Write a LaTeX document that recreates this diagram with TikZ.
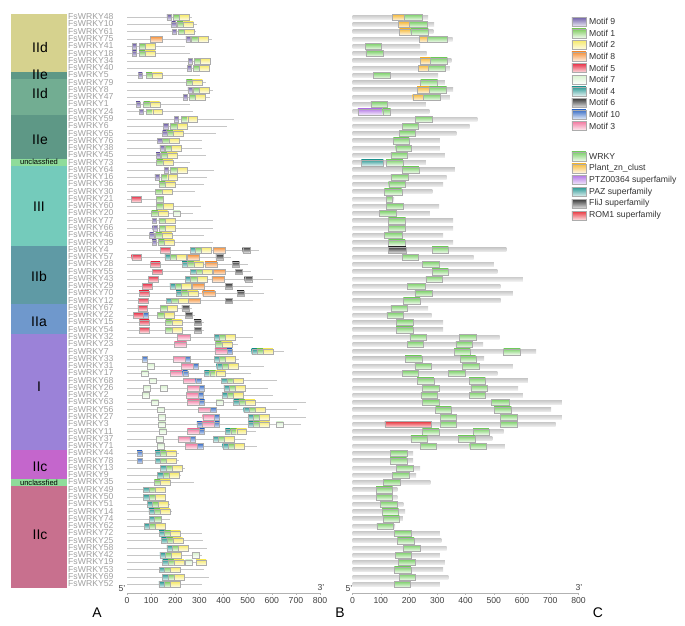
\documentclass[tikz,border=0pt]{standalone}
\usepackage{fontspec}
\setmainfont{Liberation Sans}
% group colours
\definecolor{colIId}{HTML}{D6D28E}
\definecolor{colIIe}{HTML}{5E9886}
\definecolor{colIIdb}{HTML}{72AD92}
\definecolor{colUnc}{HTML}{8FDC9A}
\definecolor{colIII}{HTML}{74CBBB}
\definecolor{colIIb}{HTML}{5F9AA5}
\definecolor{colIIa}{HTML}{6F98CC}
\definecolor{colI}{HTML}{9B82D8}
\definecolor{colIIcm}{HTML}{C466CC}
\definecolor{colIIc}{HTML}{C8708E}
% motif colours
\definecolor{cnine}{HTML}{7060A8}
\definecolor{cone}{HTML}{7DCB5C}
\definecolor{ctwo}{HTML}{F6EA6A}
\definecolor{ceight}{HTML}{F5913A}
\definecolor{cfive}{HTML}{E8344A}
\definecolor{cseven}{HTML}{D8F2CE}
\definecolor{cfour}{HTML}{2A9994}
\definecolor{csix}{HTML}{3C3C3C}
\definecolor{cten}{HTML}{3A6EC6}
\definecolor{cthree}{HTML}{F27BA2}
% domain colours
\definecolor{cwrky}{HTML}{7DD06A}
\definecolor{czn}{HTML}{F5B93A}
\definecolor{cptz}{HTML}{B57BE6}
\definecolor{cpaz}{HTML}{2E9A96}
\definecolor{cflij}{HTML}{3A3A3A}
\definecolor{crom}{HTML}{E8333C}
\def\xa{127}\def\ua{0.2413}
\def\xb{352.5}\def\ub{0.2825}
\tikzset{
  gname/.style={anchor=west, inner sep=0pt, text=gray!75, font=\fontsize{8.7}{8.7}\selectfont},
  grp/.style={inner sep=0pt, font=\fontsize{14}{14}\selectfont},
  unc/.style={inner sep=0pt, font=\fontsize{7.6}{7.6}\selectfont},
  barA/.style={draw=gray!45, line width=0.8bp},
  barB/.style={top color=gray!40, bottom color=gray!12, draw=none},
  motbox/.style={rectangle, anchor=west, inner sep=0pt, minimum height=5.5bp, draw=gray!65, line width=0.3bp},
  mot9/.style={motbox, top color=cnine, bottom color=cnine!15, minimum width={17*\ua*1bp}},
  mot1/.style={motbox, top color=cone, bottom color=cone!12, minimum width={26*\ua*1bp}},
  mot2/.style={motbox, top color=ctwo, bottom color=ctwo!15, minimum width={41*\ua*1bp}},
  mot8/.style={motbox, top color=ceight, bottom color=ceight!15, minimum width={50*\ua*1bp}},
  mot5/.style={motbox, top color=cfive, bottom color=cfive!15, minimum width={40*\ua*1bp}},
  mot7/.style={motbox, top color=cseven, bottom color=white, minimum width={29*\ua*1bp}},
  mot4/.style={motbox, top color=cfour, bottom color=cfour!15, minimum width={22*\ua*1bp}},
  mot6/.style={motbox, top color=csix, bottom color=csix!15, minimum width={29*\ua*1bp}},
  mot10/.style={motbox, top color=cten, bottom color=cten!15, minimum width={21*\ua*1bp}},
  mot3/.style={motbox, top color=cthree, bottom color=cthree!12, minimum width={50*\ua*1bp}},
  dom/.style={draw=gray!65, line width=0.3bp},
  dwrky/.style={dom, top color=cwrky, bottom color=cwrky!12},
  dzn/.style={dom, top color=czn, bottom color=czn!15},
  dptz/.style={dom, top color=cptz, bottom color=cptz!15},
  dpaz/.style={dom, top color=cpaz, bottom color=cpaz!15},
  dflij/.style={dom, top color=cflij, bottom color=cflij!15},
  drom/.style={dom, top color=crom, bottom color=crom!15},
  legbox/.style={anchor=east, inner sep=0pt, minimum width=14bp, minimum height=9bp},
  legtext/.style={anchor=west, inner sep=0pt, text=black!80, font=\fontsize{8.7}{8.7}\selectfont},
  axisline/.style={draw=gray!60, line width=0.5bp},
  ticklab/.style={inner sep=0pt, text=black!75, font=\fontsize{8.7}{8.7}\selectfont},
  panlab/.style={inner sep=0pt, font=\fontsize{14}{14}\selectfont}
}
\begin{document}
\begin{tikzpicture}[x=1bp, y=-1bp]
\useasboundingbox (0,0) rectangle (685,626);
% groups
\foreach \a/\b/\c in {1/8/colIId, 9/9/colIIe, 10/14/colIIdb, 15/20/colIIe, 21/21/colUnc,
  22/32/colIII, 33/40/colIIb, 41/44/colIIa, 45/60/colI, 61/64/colIIcm, 65/65/colUnc, 66/79/colIIc}
  \fill[fill=\c] (11,{17.3+(\a-1.5)*7.27}) rectangle (67,{17.3+(\b-0.5)*7.27});
\node[grp] (lIId) at (40,47.7) {IId};
\node[grp] (lIIe) at (40,75) {IIe};
\node[grp] (lIIdb) at (40,94) {IId};
\node[grp] (lIIeb) at (40,140) {IIe};
\node[unc] (lunc) at (39,162) {unclassfied};
\node[grp] (lIII) at (39,207) {III};
\node[grp] (lIIb) at (39,277) {IIb};
\node[grp] (lIIa) at (39,322) {IIa};
\node[grp] (lI) at (39,387) {I};
\node[grp] (lIIcm) at (40,467) {IIc};
\node[unc] (luncb) at (39,483) {unclassfied};
\node[grp] (lIIc) at (40,535) {IIc};
% genes
\foreach \r/\g/\len in {1/48/268, 2/10/289, 3/61/286, 4/75/354, 5/41/239, 6/18/262, 7/34/350, 8/40/345,
  9/5/303, 10/79/327, 11/8/356, 12/47/345, 13/1/260, 14/24/272, 15/59/442, 16/6/415, 17/65/368,
  18/76/309, 19/38/309, 20/45/327, 21/73/260, 22/64/362, 23/16/333, 24/36/321, 25/30/283, 26/21/147,
  27/60/307, 28/20/274, 29/77/356, 30/66/356, 31/46/321, 32/39/356, 33/4/545, 34/57/429, 35/28/500,
  36/55/513, 37/43/603, 38/29/523, 39/70/568, 40/12/524, 41/67/268, 42/22/280, 43/15/321, 44/54/321,
  45/32/521, 46/23/462, 47/7/650, 48/33/466, 49/31/568, 50/17/513, 51/68/621, 52/26/586, 53/2/603,
  54/63/741, 55/56/703, 56/27/741, 57/3/719, 58/11/535, 59/37/495, 60/71/539, 61/44/215, 62/78/215,
  63/13/239, 64/9/225, 65/35/276, 66/49/159, 67/50/159, 68/51/180, 69/14/186, 70/74/178, 71/62/151,
  72/72/309, 73/25/315, 74/58/333, 75/42/309, 76/19/327, 77/53/321, 78/69/339, 79/52/309} {
  \pgfmathsetmacro\ry{17.3+(\r-1)*7.27}
  \node[gname] (g\r) at (68,\ry-0.6) {FsWRKY\g};
  \draw[barA] (\xa,\ry) -- ({\xa+\len*\ua},\ry);
  \path[barB] (\xb,\ry-2) rectangle ({\xb+\len*\ub},\ry+2);
}
% motifs (A)
\foreach \r/\ms in {1/{9/165,1/189,2/215}, 2/{9/184,1/207,2/233}, 3/{9/188,1/212,2/238},
  4/{8/95,9/243,1/267,2/293}, 5/{9/21,1/50,2/76}, 6/{9/22,1/50,2/76}, 7/{9/254,1/278,2/304},
  8/{9/249,1/274,2/300}, 9/{9/46,1/79,2/105}, 10/{1/245,2/271}, 11/{9/252,1/274,2/300},
  12/{9/232,1/257,2/283}, 13/{9/37,1/68,2/94}, 14/{9/50,1/80,2/106}, 15/{9/195,1/225,2/251},
  16/{9/151,1/180,2/206}, 17/{9/147,1/166,2/192}, 18/{9/126,1/147,2/173}, 19/{9/136,1/156,2/182},
  20/{9/120,1/141,2/167}, 21/{1/122,2/148}, 22/{9/154,1/180,2/206}, 23/{9/115,1/142,2/168},
  24/{1/133,2/159}, 25/{1/118,2/144}, 26/{5/17,1/122}, 27/{1/122,2/148}, 28/{1/101,2/127,7/189},
  29/{9/105,1/131,2/157}, 30/{9/106,1/133,2/159}, 31/{9/93,1/118,2/144}, 32/{9/104,1/129,2/155},
  33/{5/137,4/261,1/282,2/308,8/355,6/479}, 34/{5/19,4/156,1/177,2/203,8/250,6/368},
  35/{5/97,4/228,1/250,2/276,8/322,6/436}, 36/{5/104,4/263,1/285,2/311,8/357,6/448},
  37/{5/89,4/241,1/263,2/289,8/351,6/487}, 38/{5/64,4/177,1/199,2/225,8/271,6/407},
  39/{5/50,4/203,1/225,2/252,8/313,6/456}, 40/{5/46,4/162,1/184,2/210,8/254,6/407},
  41/{5/44,1/138,2/165,6/227}, 42/{5/26,10/68,1/126,2/152,6/242}, 43/{5/51,1/159,2/185,6/278},
  44/{5/51,1/159,2/185,6/278}, 45/{3/209,4/360,1/382,2/406}, 46/{3/196,1/366,2/393},
  47/{3/364,10/414,4/516,1/538,2/563}, 48/{10/62,3/191,10/241,4/361,1/383,2/408},
  49/{7/84,3/225,10/275,4/371,1/393,2/418}, 50/{7/59,3/178,10/230,4/320,1/342,2/367},
  51/{7/93,3/232,10/284,4/391,1/413,2/438}, 52/{7/68,7/137,3/249,10/299,4/401,1/423,2/449},
  53/{7/64,3/245,10/295,4/394,1/416,2/441}, 54/{7/101,3/250,10/300,7/369,4/441,1/463,2/488},
  55/{7/126,3/296,10/346,4/483,1/505,2/530}, 56/{7/130,3/313,10/362,4/502,1/524,2/549},
  57/{7/130,10/289,3/310,10/362,4/502,1/524,2/549,7/618}, 58/{7/134,3/250,10/300,4/407,1/429,2/454},
  59/{7/120,3/210,10/260,4/357,1/379,2/404}, 60/{7/126,3/242,10/292,4/396,1/418,2/443},
  61/{10/41,4/116,1/138,2/163}, 62/{10/41,4/116,1/138,2/163}, 63/{4/138,1/160,2/185},
  64/{4/126,1/148,2/173}, 65/{1/113,2/138}, 66/{4/68,1/90,2/115}, 67/{4/68,1/90,2/115},
  68/{4/83,1/105,2/130}, 69/{4/90,1/112,2/137}, 70/{4/91,1/113}, 71/{4/71,1/93,2/118},
  72/{4/133,1/155,2/180}, 73/{4/142,1/165,2/189}, 74/{4/165,1/187,2/212},
  75/{4/136,1/158,2/183,7/271}, 76/{4/147,1/169,2/194,7/241,2/286}, 77/{4/133,1/155,2/180},
  78/{4/147,1/169,2/194}, 79/{4/131,1/153,2/178}} {
  \pgfmathsetmacro\ry{17.3+(\r-1)*7.27}
  \foreach \m/\s [count=\k] in \ms
    \node[mot\m] (a\r-\k) at ({\xa+\s*\ua},\ry) {};
}
% domains (B)
\foreach \r/\ds in {1/{zn/141/182,wrky/182/245}, 2/{zn/162/201,wrky/201/265}, 3/{zn/166/206,wrky/206/269},
  4/{zn/236/265,wrky/265/335}, 5/{wrky/45/103}, 6/{wrky/47/107}, 7/{zn/239/276,wrky/276/336},
  8/{zn/233/269,wrky/269/329}, 9/{wrky/74/133}, 10/{wrky/241/301}, 11/{zn/229/272,wrky/272/333},
  12/{zn/213/250,wrky/250/312}, 13/{wrky/65/124}, 14/{ptz/19/107,wrky/107/135}, 15/{wrky/222/283},
  16/{wrky/176/234}, 17/{wrky/166/223}, 18/{wrky/145/200}, 19/{wrky/153/208}, 20/{wrky/136/194},
  21/{paz/31/109,wrky/119/178}, 22/{wrky/176/235}, 23/{wrky/136/198}, 24/{wrky/128/187},
  25/{wrky/113/174}, 26/{wrky/119/139}, 27/{wrky/119/178}, 28/{wrky/95/156}, 29/{wrky/127/188},
  30/{wrky/127/188}, 31/{wrky/113/174}, 32/{wrky/127/186}, 33/{flij/127/189,wrky/282/339},
  34/{wrky/176/233}, 35/{wrky/247/306}, 36/{wrky/282/339}, 37/{wrky/260/319}, 38/{wrky/195/256},
  39/{wrky/221/282}, 40/{wrky/180/239}, 41/{wrky/136/195}, 42/{wrky/122/180}, 43/{wrky/154/215},
  44/{wrky/154/215}, 45/{wrky/203/262,wrky/377/436}, 46/{wrky/194/250,wrky/366/423},
  47/{wrky/360/417,wrky/535/594}, 48/{wrky/186/245,wrky/382/436}, 49/{wrky/221/280,wrky/389/448},
  50/{wrky/176/234,wrky/339/397}, 51/{wrky/229/288,wrky/413/470}, 52/{wrky/247/306,wrky/419/477},
  53/{wrky/242/301,wrky/413/470}, 54/{wrky/247/306,wrky/492/553}, 55/{wrky/294/350,wrky/501/562},
  56/{wrky/312/368,wrky/523/582}, 57/{rom/115/280,wrky/312/366,wrky/523/582},
  58/{wrky/247/306,wrky/427/483}, 59/{wrky/207/265,wrky/374/433}, 60/{wrky/239/295,wrky/415/474},
  61/{wrky/133/192}, 62/{wrky/133/192}, 63/{wrky/156/215}, 64/{wrky/142/201}, 65/{wrky/109/168},
  66/{wrky/84/142}, 67/{wrky/84/142}, 68/{wrky/99/158}, 69/{wrky/105/163}, 70/{wrky/109/166},
  71/{wrky/86/145}, 72/{wrky/148/207}, 73/{wrky/159/218}, 74/{wrky/180/239}, 75/{wrky/151/209},
  76/{wrky/162/221}, 77/{wrky/148/207}, 78/{wrky/165/223}, 79/{wrky/148/203}} {
  \pgfmathsetmacro\ry{17.3+(\r-1)*7.27}
  \foreach \d/\s/\e in \ds
    \path[d\d] ({\xb+\s*\ub},\ry-3) rectangle ({\xb+\e*\ub},\ry+3);
}
% legends
\foreach \t/\c [count=\i] in {Motif 9/9, Motif 1/1, Motif 2/2, Motif 8/8, Motif 5/5,
  Motif 7/7, Motif 4/4, Motif 6/6, Motif 10/10, Motif 3/3} {
  \node[mot\c, legbox] (lm\i) at (586,{21.7+(\i-1)*11.6}) {};
  \node[legtext] (lt\i) at (589,{21.7+(\i-1)*11.6}) {\t};
}
\foreach \t/\c [count=\i] in {WRKY/wrky, Plant\_zn\_clust/zn, PTZ00364 superfamily/ptz,
  PAZ superfamily/paz, FliJ superfamily/flij, ROM1 superfamily/rom} {
  \node[d\c, legbox] (ld\i) at (586,{156.5+(\i-1)*11.8}) {};
  \node[legtext] (lu\i) at (589,{156.5+(\i-1)*11.8}) {\t};
}
% axes
\draw[axisline] (\xa,593) -- ({\xa+800*\ua},593);
\draw[axisline] (\xb,593) -- ({\xb+800*\ub},593);
\foreach \v in {0,100,...,800} {
  \draw[axisline] ({\xa+\v*\ua},593) -- ++(0,2);
  \draw[axisline] ({\xb+\v*\ub},593) -- ++(0,2);
  \node[ticklab] (ta\v) at ({\xa+\v*\ua},601) {\v};
  \node[ticklab] (tb\v) at ({\xb+\v*\ub},601) {\v};
}
\node[ticklab] (fiveA) at (122,589) {5'};
\node[ticklab] (threeA) at (321,588) {3'};
\node[ticklab] (fiveB) at (349,589) {5'};
\node[ticklab] (threeB) at (579,588) {3'};
\node[panlab] (pA) at (97,613) {A};
\node[panlab] (pB) at (340,613) {B};
\node[panlab] (pC) at (598,613) {C};
\end{tikzpicture}
\end{document}
